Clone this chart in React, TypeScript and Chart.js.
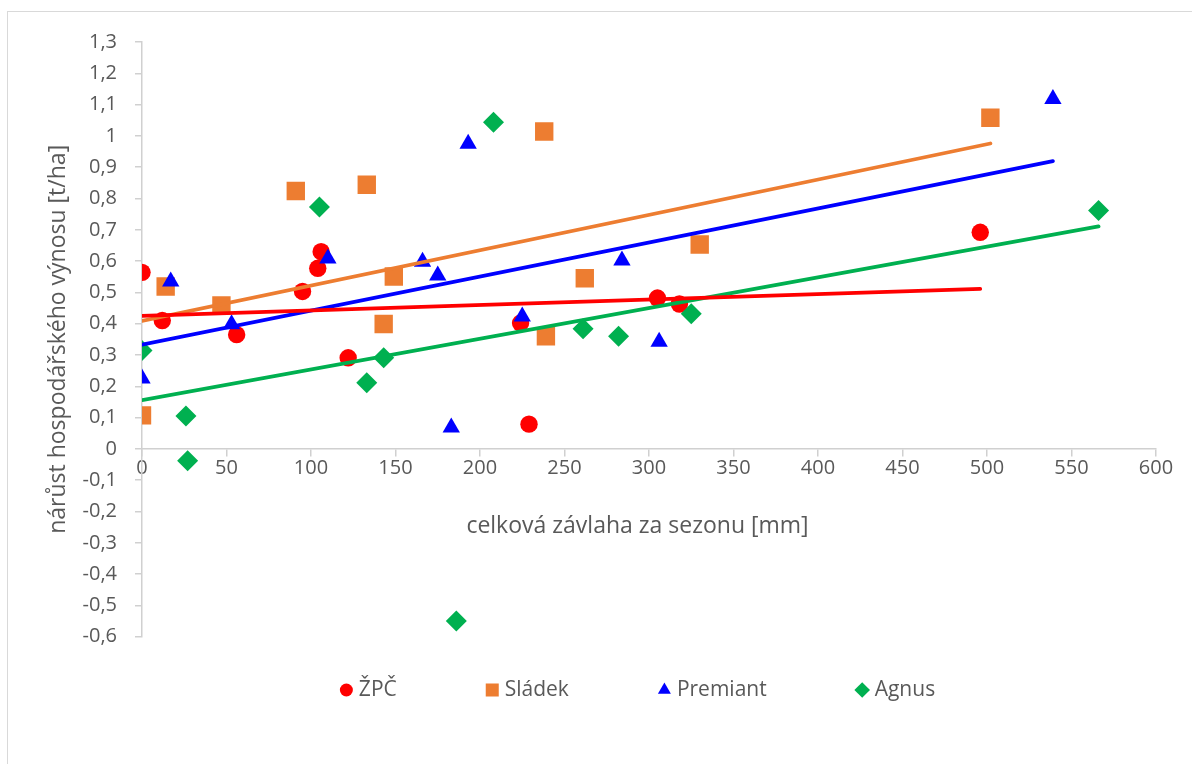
import React, { useEffect, useRef } from 'react';
import { Chart, registerables } from 'chart.js';
import { drawPoint } from 'chart.js/helpers';

Chart.register(...registerables);

// Irrigation total [mm] (x) vs. yield increase [t/ha] (y) per variety
const zpcX = [0, 12, 56, 95, 104, 106, 122, 224, 229, 305, 318, 496];
const zpcY = [0.564, 0.41, 0.365, 0.503, 0.577, 0.63, 0.291, 0.402, 0.079, 0.482, 0.463, 0.692];

const sladekX = [0, 14, 47, 91, 133, 143, 149, 238, 239, 262, 330, 502];
const sladekY = [0.107, 0.519, 0.458, 0.824, 0.844, 0.399, 0.551, 1.014, 0.36, 0.545, 0.653, 1.058];

const premiantX = [0, 17, 53, 110, 166, 175, 183, 193, 225, 284, 306, 539];
const premiantY = [0.225, 0.535, 0.398, 0.608, 0.598, 0.554, 0.068, 0.975, 0.423, 0.602, 0.342, 1.118];

const agnusX = [0, 26, 27, 105, 133, 143, 186, 208, 261, 282, 325, 566];
const agnusY = [0.314, 0.105, -0.038, 0.773, 0.211, 0.291, -0.55, 1.044, 0.384, 0.36, 0.432, 0.762];

const seriesLabels = ['ŽPČ', 'Sládek', 'Premiant', 'Agnus'];

const X_TITLE = 'celková závlaha za sezonu [mm]';
const Y_TITLE = 'nárůst hospodářského výnosu [t/ha]';

const X_MIN = 0;
const X_MAX = 600;
const X_STEP = 50;
const Y_MIN = -0.6;
const Y_MAX = 1.3;
const Y_STEP = 0.1;

const FONT = '"Open Sans", "Noto Sans", sans-serif';
const TEXT_COLOR = '#595959';
const AXIS_COLOR = '#d0d0d0';

const SERIES = [
  { label: seriesLabels[0], xs: zpcX, ys: zpcY, color: '#ff0000', style: 'circle', radius: 8.7, legendRadius: 6.5 },
  { label: seriesLabels[1], xs: sladekX, ys: sladekY, color: '#ed7d31', style: 'rect', radius: 13, legendRadius: 9.2 },
  { label: seriesLabels[2], xs: premiantX, ys: premiantY, color: '#0000ff', style: 'triangle', radius: 10, legendRadius: 7.5 },
  { label: seriesLabels[3], xs: agnusX, ys: agnusY, color: '#00b050', style: 'rectRot', radius: 10.5, legendRadius: 7.8 },
];

// Least-squares linear trend over the series' x range
function linearTrend(xs: number[], ys: number[]) {
  const n = xs.length;
  const mx = xs.reduce((a, b) => a + b, 0) / n;
  const my = ys.reduce((a, b) => a + b, 0) / n;
  let sxy = 0;
  let sxx = 0;
  for (let i = 0; i < n; i++) {
    sxy += (xs[i] - mx) * (ys[i] - my);
    sxx += (xs[i] - mx) * (xs[i] - mx);
  }
  const slope = sxy / sxx;
  const intercept = my - slope * mx;
  const x0 = Math.min(...xs);
  const x1 = Math.max(...xs);
  return [
    { x: x0, y: intercept + slope * x0 },
    { x: x1, y: intercept + slope * x1 },
  ];
}

const formatDecimal = (v: number | string) => {
  const r = Math.round(Number(v) * 10) / 10;
  return String(r).replace('.', ',');
};

// Bottom legend and x-axis caption drawn onto the chart canvas
const captionPlugin = {
  id: 'captionAndLegend',
  afterDraw(chart: any) {
    const ctx = chart.ctx as CanvasRenderingContext2D;
    ctx.save();
    ctx.fillStyle = TEXT_COLOR;
    ctx.font = `23px ${FONT}`;
    ctx.textAlign = 'center';
    ctx.textBaseline = 'middle';
    ctx.fillText(X_TITLE, chart.width / 2, 514);

    ctx.font = `21px ${FONT}`;
    const markerW = 13;
    const gap = 6;
    const itemGap = 89;
    const widths = SERIES.map((s) => ctx.measureText(s.label).width);
    const total = widths.reduce((a, w) => a + markerW + gap + w, 0) + itemGap * (SERIES.length - 1);
    let x = chart.width / 2 - total / 2;
    const y = 678;
    SERIES.forEach((s, i) => {
      ctx.fillStyle = s.color;
      drawPoint(ctx, { pointStyle: s.style as any, radius: s.legendRadius, rotation: 0, borderWidth: 0 }, x + markerW / 2, y);
      ctx.fillStyle = TEXT_COLOR;
      ctx.textAlign = 'left';
      ctx.textBaseline = 'middle';
      ctx.fillText(s.label, x + markerW + gap, y);
      x += markerW + gap + widths[i] + itemGap;
    });
    ctx.restore();
  },
};

export default function App() {
  const canvasRef = useRef<HTMLCanvasElement | null>(null);

  useEffect(() => {
    const canvas = canvasRef.current;
    if (!canvas) return;

    const scatterSets = SERIES.map((s, i) => ({
      type: 'scatter' as const,
      label: s.label,
      data: s.xs.map((x, j) => ({ x, y: s.ys[j] })),
      pointStyle: s.style,
      pointRadius: s.radius,
      pointHoverRadius: s.radius,
      backgroundColor: s.color,
      borderColor: s.color,
      borderWidth: 0,
      order: SERIES.length - i,
    }));

    const trendSets = SERIES.map((s) => ({
      type: 'line' as const,
      label: `${s.label} – lineární trend`,
      data: linearTrend(s.xs, s.ys),
      borderColor: s.color,
      borderWidth: 3.8,
      borderCapStyle: 'round' as const,
      pointRadius: 0,
      fill: false,
      order: 0,
    }));

    const axisGrid = {
      display: true,
      drawOnChartArea: false,
      drawTicks: true,
      tickLength: 7,
      color: AXIS_COLOR,
      lineWidth: 1.5,
    };

    const chart = new Chart(canvas, {
      type: 'scatter',
      data: { datasets: [...scatterSets, ...trendSets] as any },
      options: {
        animation: false,
        responsive: false,
        events: [],
        layout: { padding: { left: 0, top: 27.5, right: 111, bottom: 127.3 } },
        plugins: {
          legend: { display: false },
          tooltip: { enabled: false },
        },
        scales: {
          x: {
            type: 'linear',
            position: { y: 0 } as any,
            min: X_MIN,
            max: X_MAX,
            border: { display: true, color: AXIS_COLOR, width: 1.5 },
            grid: axisGrid,
            ticks: {
              stepSize: X_STEP,
              autoSkip: false,
              maxRotation: 0,
              padding: 0,
              color: TEXT_COLOR,
              font: { family: FONT, size: 20 },
              callback: (v: any) => String(v),
            },
          },
          y: {
            type: 'linear',
            position: 'left',
            min: Y_MIN,
            max: Y_MAX,
            afterFit: (scale: any) => {
              scale.width = 134;
            },
            border: { display: true, color: AXIS_COLOR, width: 1.5 },
            grid: axisGrid,
            ticks: {
              stepSize: Y_STEP,
              autoSkip: false,
              padding: 18,
              color: TEXT_COLOR,
              font: { family: FONT, size: 20 },
              callback: (v: any) => formatDecimal(v),
            },
            title: {
              display: true,
              text: Y_TITLE,
              color: TEXT_COLOR,
              font: { family: FONT, size: 23 },
              padding: { top: 36.2, bottom: 0 },
            },
          },
        },
      },
      plugins: [captionPlugin],
    });

    return () => chart.destroy();
  }, []);

  return (
    <div
      style={{
        position: 'fixed',
        left: 7,
        top: 11,
        width: 1259,
        height: 760,
        border: '1px solid #d9d9d9',
        background: '#ffffff',
        overflow: 'hidden',
      }}
    >
      <canvas ref={canvasRef} width={1259} height={752} style={{ display: 'block' }} />
    </div>
  );
}
